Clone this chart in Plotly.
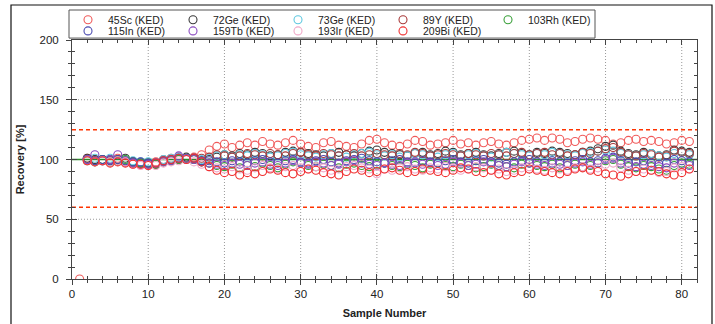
import plotly.graph_objects as go

samples = list(range(1, 82))

sc45 = [0, 101, 100, 99, 100, 101, 99, 98, 97, 96,
        98, 100, 101, 102, 101, 102, 104, 108, 111, 113,
        110, 112, 114, 112, 115, 113, 112, 114, 116, 113,
        111, 110, 114, 115, 112, 111, 110, 113, 116, 117,
        114, 112, 111, 113, 116, 115, 112, 113, 114, 116,
        113, 114, 112, 114, 115, 113, 112, 114, 116, 117,
        118, 116, 118, 117, 114, 115, 117, 118, 117, 116,
        113, 114, 116, 117, 115, 116, 115, 113, 114, 116,
        115]
ge72 = [None, 101, 100, 99, 100, 99, 101, 98, 97, 97,
        96, 99, 100, 101, 102, 101, 99, 100, 102, 104,
        103, 105, 104, 106, 105, 103, 104, 106, 107, 106,
        105, 104, 103, 105, 106, 104, 103, 105, 107, 108,
        106, 105, 104, 103, 105, 106, 104, 105, 107, 106,
        104, 105, 106, 104, 103, 105, 106, 107, 105, 104,
        106, 105, 107, 106, 105, 104, 106, 107, 109, 111,
        112, 107, 105, 104, 106, 105, 103, 104, 108, 107,
        106]
ge73 = [None, 100, 101, 100, 101, 100, 100, 99, 98, 98,
        97, 100, 101, 102, 101, 100, 100, 101, 103, 104,
        102, 104, 103, 105, 104, 102, 103, 105, 106, 104,
        103, 102, 104, 105, 103, 102, 104, 105, 106, 104,
        103, 104, 102, 103, 105, 104, 103, 102, 104, 105,
        103, 104, 105, 103, 102, 104, 106, 105, 104, 103,
        105, 104, 106, 105, 104, 103, 105, 106, 107, 108,
        107, 105, 104, 103, 104, 105, 103, 102, 105, 106,
        104]
y89 = [None, 100, 99, 100, 99, 100, 98, 97, 97, 96,
       96, 98, 99, 100, 101, 100, 101, 102, 104, 103,
       102, 103, 105, 104, 103, 105, 104, 103, 105, 106,
       104, 103, 105, 104, 103, 104, 105, 103, 104, 105,
       104, 103, 105, 104, 106, 105, 103, 104, 105, 104,
       103, 105, 104, 103, 105, 104, 103, 105, 106, 104,
       105, 106, 104, 105, 103, 104, 106, 105, 107, 109,
       110, 106, 104, 103, 105, 104, 102, 103, 107, 106,
       105]
rh103 = [None, 99, 98, 100, 98, 99, 100, 98, 97, 97,
         96, 98, 99, 100, 101, 100, 98, 97, 95, 94,
         96, 93, 95, 94, 97, 95, 93, 96, 98, 97,
         95, 94, 96, 95, 93, 96, 97, 95, 94, 96,
         97, 95, 94, 96, 95, 93, 96, 97, 95, 94,
         96, 95, 93, 94, 96, 95, 94, 93, 96, 97,
         95, 94, 96, 93, 95, 96, 94, 95, 97, 99,
         100, 96, 94, 93, 95, 94, 92, 91, 95, 97,
         96]
in115 = [None, 100, 99, 100, 99, 100, 99, 98, 98, 97,
         97, 99, 100, 101, 100, 101, 99, 99, 98, 97,
         99, 98, 97, 99, 100, 98, 97, 99, 100, 98,
         97, 99, 100, 98, 97, 99, 100, 101, 99, 98,
         97, 99, 100, 98, 97, 99, 98, 97, 99, 100,
         98, 97, 99, 100, 98, 97, 96, 98, 99, 100,
         98, 97, 99, 98, 97, 99, 100, 98, 99, 101,
         102, 99, 97, 98, 99, 97, 96, 97, 100, 99,
         98]
tb159 = [None, 100, 104, 99, 100, 104, 98, 97, 96, 96,
         97, 98, 99, 103, 101, 100, 98, 97, 96, 95,
         97, 96, 95, 97, 98, 96, 95, 97, 99, 97,
         96, 98, 97, 95, 96, 98, 99, 97, 96, 95,
         97, 96, 95, 97, 98, 96, 97, 95, 96, 98,
         97, 95, 96, 98, 97, 95, 94, 96, 98, 97,
         96, 95, 97, 96, 95, 97, 98, 96, 97, 100,
         101, 97, 95, 94, 96, 95, 94, 93, 97, 96,
         95]
ir193 = [None, 99, 98, 99, 98, 99, 98, 96, 95, 95,
         95, 97, 98, 99, 100, 98, 96, 94, 93, 92,
         94, 92, 91, 93, 95, 93, 92, 94, 95, 93,
         92, 94, 93, 91, 92, 94, 95, 93, 92, 88,
         92, 91, 93, 94, 92, 91, 93, 92, 94, 93,
         91, 92, 94, 93, 91, 92, 90, 91, 93, 94,
         92, 91, 93, 92, 91, 93, 94, 92, 93, 96,
         97, 93, 91, 90, 92, 91, 89, 90, 93, 94,
         92]
bi209 = [None, 99, 98, 99, 97, 98, 97, 96, 96, 95,
         97, 99, 100, 101, 100, 101, 98, 94, 91, 89,
         90, 87, 89, 88, 90, 92, 91, 89, 88, 90,
         92, 91, 89, 88, 87, 90, 92, 91, 89, 90,
         92, 93, 91, 89, 90, 92, 91, 90, 89, 91,
         93, 92, 90, 89, 91, 88, 87, 89, 90, 92,
         91, 90, 89, 88, 90, 92, 93, 91, 90, 88,
         87, 86, 88, 90, 89, 91, 90, 88, 87, 89,
         92]

series_names = ["45Sc (KED)", "72Ge (KED)", "73Ge (KED)", "89Y (KED)", "103Rh (KED)",
                "115In (KED)", "159Tb (KED)", "193Ir (KED)", "209Bi (KED)"]
series_values = [sc45, ge72, ge73, y89, rh103, in115, tb159, ir193, bi209]
series_colors = ["#f05a5a", "#3a3a3a", "#5fc8e0", "#a83a3a", "#3aa03a",
                 "#4a4ab0", "#8a4ac0", "#f0a8c8", "#f03030"]
legend_ids = ["legend"] * 5 + ["legend2"] * 4

target_line = [100]
limit_lines = [60, 125]
x_grid = [10, 20, 30, 40, 50, 60, 70, 80]
y_grid = [50, 150]

x_range = [0, 82]
y_range = [0, 200]

FONT = "Liberation Sans, Arial, sans-serif"

fig = go.Figure()
for name, vals, col, lg in zip(series_names, series_values, series_colors, legend_ids):
    fig.add_trace(go.Scatter(
        x=samples, y=vals, name=name, mode="markers", legend=lg,
        marker=dict(symbol="circle-open", size=8, color=col, line=dict(width=1.1)),
    ))

# invisible trace on overlay axes to produce outward tick halves
fig.add_trace(go.Scatter(x=[None], y=[None], xaxis="x2", yaxis="y2", showlegend=False))

shapes = []
for v in x_grid:
    shapes.append(dict(type="line", xref="x", yref="y domain", x0=v, x1=v, y0=0, y1=1,
                       line=dict(color="#999", width=1, dash="1px,2px"), layer="below"))
for v in y_grid:
    shapes.append(dict(type="line", xref="x domain", yref="y", x0=0, x1=1, y0=v, y1=v,
                       line=dict(color="#999", width=1, dash="1px,2px"), layer="below"))
for v in limit_lines:
    shapes.append(dict(type="line", xref="x domain", yref="y", x0=0, x1=1, y0=v, y1=v,
                       line=dict(color="#ff3300", width=1.5, dash="4px,3px"), layer="below"))
for v in target_line:
    shapes.append(dict(type="line", xref="x domain", yref="y", x0=0, x1=1, y0=v, y1=v,
                       line=dict(color="#2a8a2a", width=1.3), layer="below"))
# outer frame
shapes.append(dict(type="rect", xref="paper", yref="paper",
                   x0=-0.0976, x1=1.024, y0=-0.25, y1=1.1464,
                   line=dict(color="#111", width=1.2), fillcolor="rgba(0,0,0,0)"))
# legend box
shapes.append(dict(type="rect", xref="paper", yref="paper",
                   x0=-0.0048, x1=0.8368, y0=1.008, y1=1.1255,
                   line=dict(color="#555", width=1), fillcolor="rgba(0,0,0,0)"))

axis_common = dict(showline=True, linecolor="#444", linewidth=1, showgrid=False,
                   tickcolor="#444", zeroline=False, automargin=False)

fig.update_layout(
    width=715, height=324,
    margin=dict(l=72, r=18, t=40, b=45, autoexpand=False),
    paper_bgcolor="white", plot_bgcolor="white",
    font=dict(family=FONT, size=11, color="#222"),
    shapes=shapes,
    xaxis=dict(range=x_range, tick0=0, dtick=10, ticks="inside", ticklen=5, mirror="ticks",
               minor=dict(dtick=2, tick0=0, ticks="inside", ticklen=3, tickcolor="#444", showgrid=False),
               title=dict(text="<b>Sample Number</b>", font=dict(size=11, family=FONT), standoff=10),
               tickfont=dict(size=11.5), ticklabelstandoff=4, **axis_common),
    yaxis=dict(range=y_range, tick0=0, dtick=50, ticks="inside", ticklen=5, mirror="ticks",
               minor=dict(dtick=10, tick0=0, ticks="inside", ticklen=3, tickcolor="#444", showgrid=False),
               title=dict(text="<b>Recovery [%]</b>", font=dict(size=11, family=FONT), standoff=12),
               tickfont=dict(size=11.5), ticklabelstandoff=10, **axis_common),
    xaxis2=dict(range=x_range, overlaying="x", side="bottom", tick0=0, dtick=10, ticks="outside",
                ticklen=5, showticklabels=False, showgrid=False, showline=False, tickcolor="#444",
                minor=dict(dtick=2, tick0=0, ticks="outside", ticklen=3, tickcolor="#444", showgrid=False),
                zeroline=False, automargin=False),
    yaxis2=dict(range=y_range, overlaying="y", side="left", tick0=0, dtick=50, ticks="outside",
                ticklen=5, showticklabels=False, showgrid=False, showline=False, tickcolor="#444",
                minor=dict(dtick=10, tick0=0, ticks="outside", ticklen=3, tickcolor="#444", showgrid=False),
                zeroline=False, automargin=False),
    legend=dict(orientation="h", x=-0.0064, y=1.085, xanchor="left", yanchor="middle",
                entrywidth=60, entrywidthmode="pixels", bgcolor="rgba(0,0,0,0)",
                font=dict(size=10.5, family=FONT), itemwidth=30, tracegroupgap=0),
    legend2=dict(orientation="h", x=-0.0064, y=1.038, xanchor="left", yanchor="middle",
                 entrywidth=60, entrywidthmode="pixels", bgcolor="rgba(0,0,0,0)",
                 font=dict(size=10.5, family=FONT), itemwidth=30, tracegroupgap=0),
    showlegend=True,
)

fig.write_html("out.html", config={"displayModeBar": False},
               post_script="document.body.style.margin='0';document.body.style.overflow='hidden';")
